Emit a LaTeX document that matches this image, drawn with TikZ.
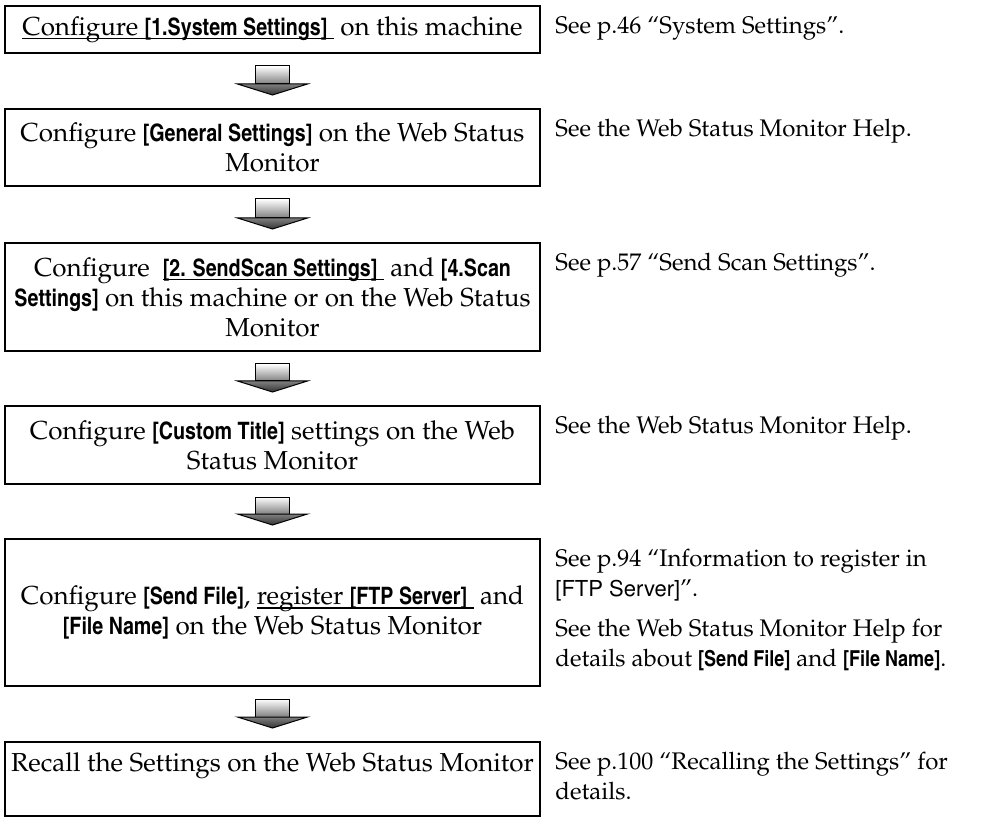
\documentclass[tikz,border=0pt]{standalone}
\usepackage[T1]{fontenc}
\renewcommand{\rmdefault}{ppl}
\usetikzlibrary{positioning,calc}

\newcommand{\keyf}[1]{{\fontfamily{phv}\fontseries{bc}\fontsize{12}{15}\selectfont #1}}
\newcommand{\notekey}[1]{{\fontfamily{phv}\fontseries{bc}\fontsize{11}{15}\selectfont #1}}
\newcommand{\plainsf}[1]{{\fontfamily{phv}\fontseries{m}\fontsize{11}{15}\selectfont #1}}
\newsavebox{\ulbox}
\newcommand{\stepul}[1]{\sbox{\ulbox}{#1}\rlap{\rule[-2pt]{\wd\ulbox}{0.7pt}}\usebox{\ulbox}}
\newcommand{\flowarrow}[2]{%
  \coordinate (#1-top) at ($(#1.south)+(0,12)$);
  \coordinate (#1-tip) at ($(#2.north)+(0,-13)$);
  \shadedraw[shaft] ($(#1-top)+(-17,0)$) rectangle ($(#1-tip)+(17,-11)$);
  \shadedraw[head] ($(#1-tip)+(-35,-11)$) -- ($(#1-tip)+(35,-11)$) -- (#1-tip) -- cycle;
}

\tikzset{
  stepbox/.style={draw, line width=1pt, inner sep=0pt, minimum width=267.5pt,
    align=center, anchor=north west, font=\fontsize{13}{15}\selectfont},
  notetext/.style={inner sep=0pt, align=left, below right=3.75pt and 7pt of #1.north east,
    font=\fontsize{12}{15}\selectfont},
  shaft/.style={top color=white, bottom color=black!50, draw=black, line width=0.5pt},
  head/.style={top color=black!50, bottom color=black!80, draw=black, line width=0.5pt},
}

\begin{document}
\begin{tikzpicture}[x=0.5pt, y=-0.5pt]
    \useasboundingbox (0,0) rectangle (983,817);

    % steps
    \node[stepbox, minimum height=23.5pt] (b1) at (4,5)
        {\stepul{Configure \keyf{[1.System Settings]}\ } on this machine};
    \node[stepbox, minimum height=38.5pt] (b2) at (4,108)
        {Configure \keyf{[General Settings]} on the Web Status\\ Monitor};
    \node[stepbox, minimum height=54pt] (b3) at (4,242)
        {Configure \ \stepul{\keyf{[2. SendScan Settings]}\ } and \keyf{[4.Scan}\\
         \keyf{Settings]} on this machine or on the Web Status\\ Monitor};
    \node[stepbox, minimum height=39pt] (b4) at (4,405)
        {Configure \keyf{[Custom Title]} settings on the Web\\ Status Monitor};
    \node[stepbox, minimum height=73.5pt] (b5) at (4,538)
        {Configure \keyf{[Send File]}, \stepul{register \keyf{[FTP Server]}\ } and\\
         \keyf{[File Name]} on the Web Status Monitor};
    \node[stepbox, minimum height=37pt, text height=9pt, text depth=16.5pt] (b6) at (4,741)
        {Recall the Settings on the Web Status Monitor};

    % arrows between the steps
    \foreach \a/\b in {b1/b2, b2/b3, b3/b4, b4/b5, b5/b6}
        {\flowarrow{\a}{\b}}

    % notes
    \node[notetext=b1] (n1) {\strut See p.46 ``System Settings''.};
    \node[notetext=b2] (n2) {\strut See the Web Status Monitor Help.};
    \node[notetext=b3] (n3) {\strut See p.57 ``Send Scan Settings''.};
    \node[notetext=b4] (n4) {\strut See the Web Status Monitor Help.};
    \node[notetext=b5] (n5) {\strut See p.94 ``Information to register in\\
        \plainsf{[FTP Server]}''.\\[5pt]
        See the Web Status Monitor Help for\\
        details about \notekey{[Send File]} and \notekey{[File Name]}.};
    \node[notetext=b6] (n6) {\strut See p.100 ``Recalling the Settings'' for\\ details.};
\end{tikzpicture}
\end{document}
